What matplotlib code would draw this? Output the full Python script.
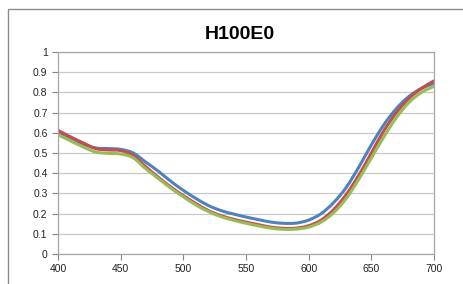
from matplotlib import pyplot as plt
from matplotlib.patches import Rectangle, PathPatch
from matplotlib.path import Path

# wavelength (nm) and the three spectra
wavelength = list(range(400, 701, 10))
blue_vals = [0.605, 0.575, 0.545, 0.525, 0.522, 0.518, 0.500, 0.455, 0.410, 0.360,
             0.315, 0.275, 0.240, 0.215, 0.198, 0.183, 0.170, 0.158, 0.152, 0.153,
             0.168, 0.200, 0.255, 0.330, 0.430, 0.540, 0.640, 0.720, 0.780, 0.820, 0.845]
red_vals = [0.612, 0.580, 0.550, 0.522, 0.515, 0.512, 0.488, 0.432, 0.380, 0.332,
            0.289, 0.250, 0.215, 0.190, 0.172, 0.158, 0.145, 0.133, 0.127, 0.128,
            0.140, 0.168, 0.220, 0.295, 0.390, 0.500, 0.610, 0.700, 0.770, 0.820, 0.857]
green_vals = [0.590, 0.560, 0.530, 0.505, 0.498, 0.495, 0.476, 0.422, 0.374, 0.326,
              0.283, 0.243, 0.210, 0.185, 0.167, 0.152, 0.139, 0.128, 0.122, 0.123,
              0.133, 0.158, 0.205, 0.275, 0.370, 0.475, 0.580, 0.675, 0.750, 0.800, 0.830]
x_ticks = [400, 450, 500, 550, 600, 650, 700]
y_ticks = [0, 0.1, 0.2, 0.3, 0.4, 0.5, 0.6, 0.7, 0.8, 0.9, 1]
y_labels = ["0", "0.1", "0.2", "0.3", "0.4", "0.5", "0.6", "0.7", "0.8", "0.9", "1"]


def smooth_line(ax, xs, ys, color):
    # Excel-style smoothed line: Catmull-Rom segments as cubic Beziers
    n = len(xs)
    verts = [(xs[0], ys[0])]
    codes = [Path.MOVETO]
    for i in range(n - 1):
        x0, y0 = (xs[i - 1], ys[i - 1]) if i > 0 else (xs[i], ys[i])
        x1, y1 = xs[i], ys[i]
        x2, y2 = xs[i + 1], ys[i + 1]
        x3, y3 = (xs[i + 2], ys[i + 2]) if i + 2 < n else (x2, y2)
        c1 = (x1 + (x2 - x0) / 6, y1 + (y2 - y0) / 6)
        c2 = (x2 - (x3 - x1) / 6, y2 - (y3 - y1) / 6)
        verts += [c1, c2, (x2, y2)]
        codes += [Path.CURVE4] * 3
    patch = PathPatch(Path(verts, codes), fill=False, edgecolor=color, lw=2.2,
                      capstyle='round', joinstyle='round')
    ax.add_patch(patch)


def main():
    plt.rcParams['font.family'] = ['Liberation Sans', 'DejaVu Sans']
    fig = plt.figure(figsize=(4.64, 2.84), dpi=100)

    # outer chart border (runs off the right and bottom edges)
    fig.patches.append(Rectangle((8 / 464, -0.2), 1.0, 1.2 - 9 / 284,
                                 transform=fig.transFigure, fill=False,
                                 edgecolor='#8c8c8c', lw=1.0))

    ax = fig.add_axes([58 / 464, 1 - 254 / 284, 376 / 464, 202 / 284])
    smooth_line(ax, wavelength, blue_vals, '#4F81BD')
    smooth_line(ax, wavelength, red_vals, '#C0504D')
    smooth_line(ax, wavelength, green_vals, '#9BBB59')

    ax.set_xlim(400, 700)
    ax.set_ylim(0, 1)
    ax.set_xticks(x_ticks)
    ax.set_yticks(y_ticks)
    ax.set_yticklabels(y_labels)
    ax.tick_params(labelsize=7.5, colors='#868686', labelcolor='#222222',
                   length=4, width=0.8)
    ax.grid(axis='y', color='#c8c8c8', lw=0.9)
    ax.set_axisbelow(True)
    for s in ax.spines.values():
        s.set_color('#a6a6a6')
        s.set_linewidth(0.9)

    fig.text(240 / 464, 1 - 35 / 284, "H100E0", ha='center', va='center',
             fontsize=14, fontweight='bold')

    plt.savefig('out.png', dpi=100)


if __name__ == "__main__":
    main()
